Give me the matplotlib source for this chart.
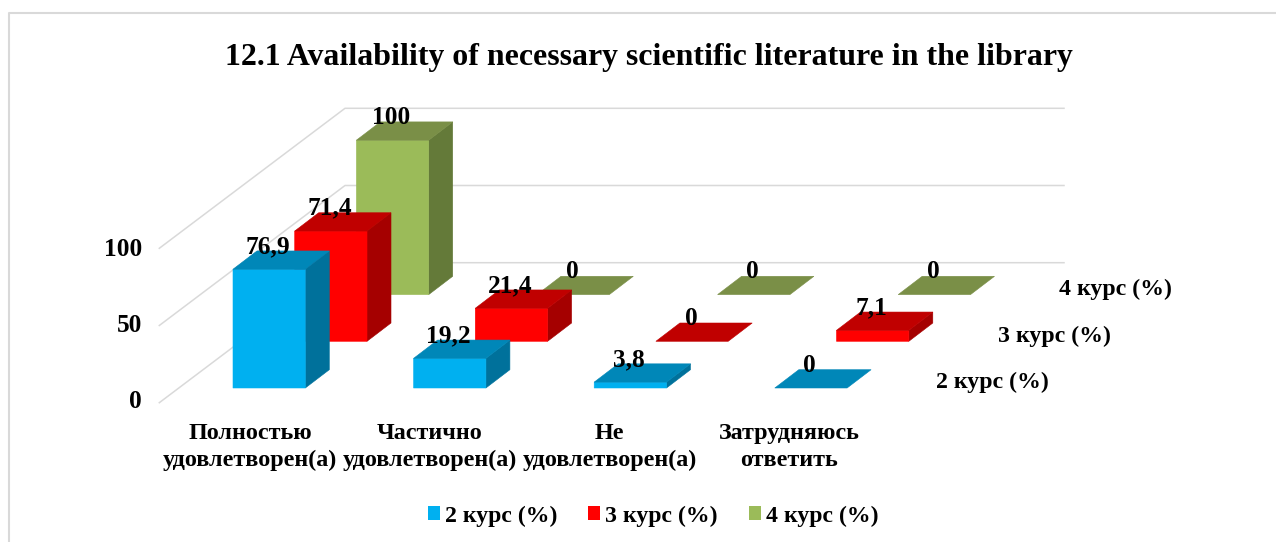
import matplotlib; matplotlib.use("Agg")
import matplotlib.pyplot as plt
from matplotlib.patches import Polygon, Patch

plt.rcParams.update({"font.family":["Liberation Serif","DejaVu Serif"],"font.weight":"bold"})

title = "12.1 Availability of necessary scientific literature in the library"
categories = ["Полностью\nудовлетворен(а)","Частично\nудовлетворен(а)","Не\nудовлетворен(а)","Затрудняюсь\nответить"]
series = ["2 курс (%)","3 курс (%)","4 курс (%)"]
kurs2 = [76.9, 19.2, 3.8, 0]
kurs3 = [71.4, 21.4, 0, 7.1]
kurs4 = [100, 0, 0, 0]
values = [kurs2, kurs3, kurs4]
yticks = [0, 50, 100]

# front, side, top shade per series
COL = [("#00B0F0","#00719B","#0087B8"),("#FF0000","#A50000","#C00000"),("#9BBB59","#647A39","#7A8F47")]
GRID = "#D9D9D9"

# oblique projection, all in pixels of the 1276x542 picture
PX_PER_UNIT = 1.544
BAR_W = 72.3; DEPTH_X = 24; DEPTH_Y = 18.3
CAT_STEP = 180.6; SER_DX = 61.7; SER_DY = 46.7
X0 = 233; Y0 = 388

def corner(c, s, v=0):
    return X0 + c*CAT_STEP + s*SER_DX, Y0 - s*SER_DY - v*PX_PER_UNIT

def bar(ax, c, s, v):
    x, yb = corner(c, s); _, yt = corner(c, s, v)
    front, side, top = COL[s]
    z = 3 + (2-s)
    if v > 0:
        ax.add_patch(Polygon([(x+BAR_W,yb),(x+BAR_W+DEPTH_X,yb-DEPTH_Y),(x+BAR_W+DEPTH_X,yt-DEPTH_Y),(x+BAR_W,yt)],
                             fc=side, ec=side, lw=0.4, zorder=z, snap=False))
        ax.add_patch(Polygon([(x,yb),(x+BAR_W,yb),(x+BAR_W,yt),(x,yt)], fc=front, ec=front, lw=0.4, zorder=z, snap=False))
    ax.add_patch(Polygon([(x,yt),(x+DEPTH_X,yt-DEPTH_Y),(x+BAR_W+DEPTH_X,yt-DEPTH_Y),(x+BAR_W,yt)],
                         fc=top, ec=top, lw=0.4, zorder=z, snap=False))
    lab = f"{v:g}".replace(".", ",")
    ax.text(x+35, yt-DEPTH_Y-4.5, lab, ha="center", va="center", fontsize=18.3, color="k", zorder=10)

fig = plt.figure(figsize=(12.76,5.42), dpi=100)
ax = fig.add_axes([0,0,1,1]); ax.set_xlim(0,1276); ax.set_ylim(542,0); ax.axis("off")

# chart frame runs off the right and bottom of the crop
ax.plot([9,9,1276],[542,13,13], color=GRID, lw=1.5, zorder=1)

ax.text(649, 57, title, ha="center", va="center", fontsize=22.95, color="k")

# floor/wall gridlines
for t in yticks:
    y = t*PX_PER_UNIT
    ax.plot([159.3,345,1064],[402.7-y,262.7-y,262.7-y], color=GRID, lw=1.1, zorder=2)
    ax.text(142, 402-t*1.53, str(t), ha="right", va="center", fontsize=18.3, color="k")

for s in [2,1,0]:
    for c, v in enumerate(values[s]):
        bar(ax, c, s, v)

for c, lab in enumerate(categories):
    ax.text(250+c*179.7, 447, lab, ha="center", va="center", fontsize=17.4, linespacing=1.39, color="k")
for s, lab in enumerate(series):
    ax.text(992.5+s*61.5, 382.5-s*46.5, lab, ha="center", va="center", fontsize=17.2, color="k")

handles = [Patch(fc=COL[i][0], ec="none") for i in range(3)]
fig.legend(handles, series, ncols=3, frameon=False, loc="center", bbox_to_anchor=(653/1276, 1-516/542),
           fontsize=17.1, handlelength=0.52, handleheight=0.52, handletextpad=0.2, columnspacing=1.3)

fig.savefig("out.png", dpi=100)
